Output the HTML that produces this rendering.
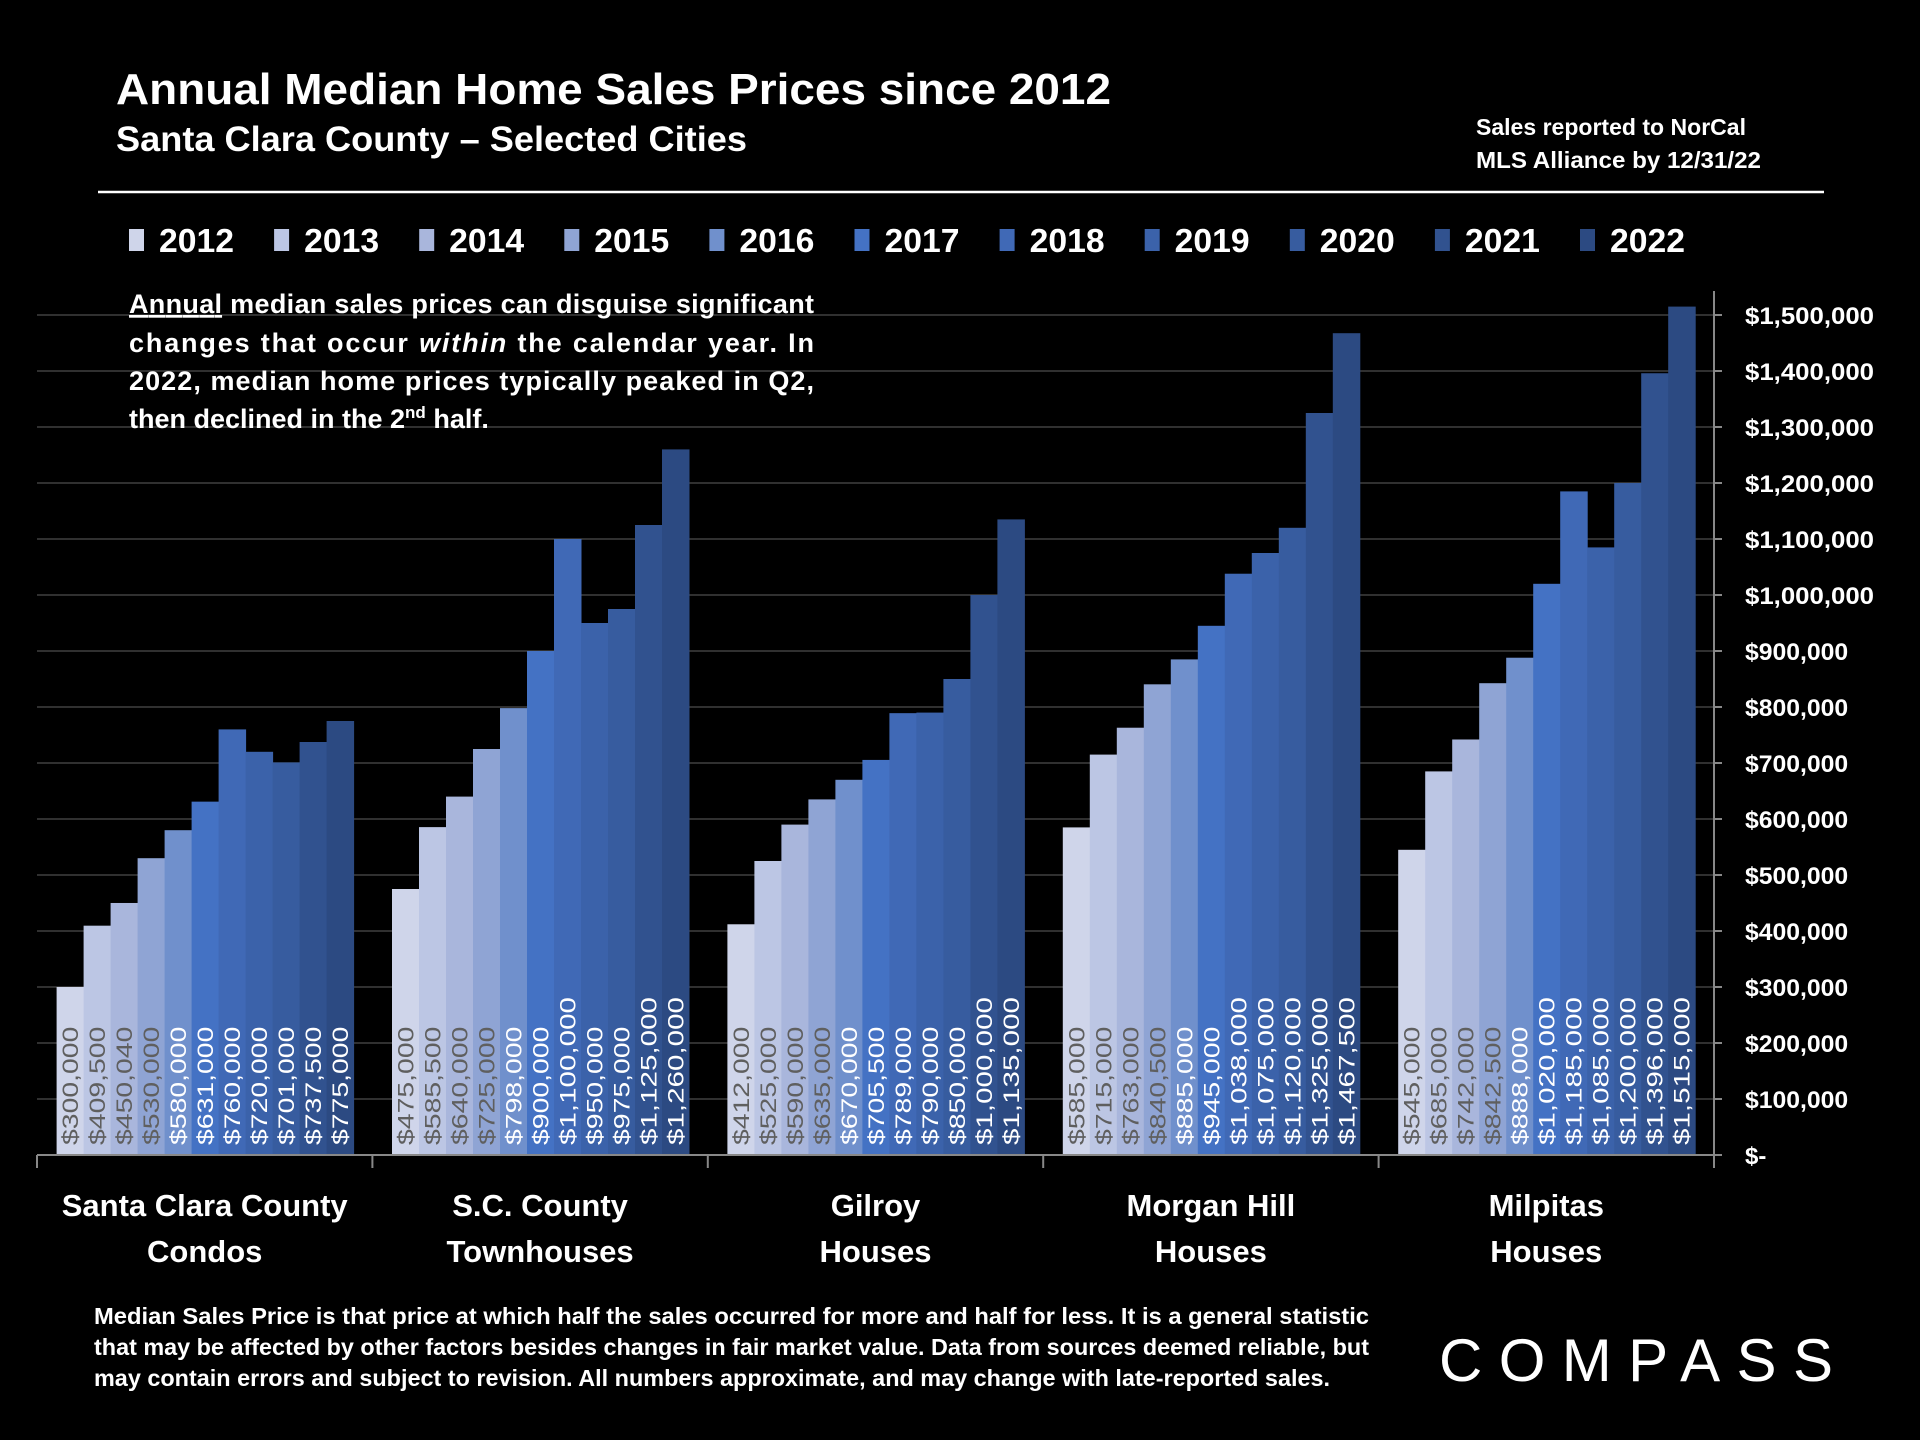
<!DOCTYPE html>
<html><head><meta charset="utf-8"><style>
html,body{margin:0;padding:0;background:#000;}
svg{display:block;}
text{font-family:"Liberation Sans Narrow","Liberation Sans",sans-serif;font-weight:bold;fill:#fff;}
</style></head><body>
<svg id="chart" width="1920" height="1440" viewBox="0 0 1920 1440">
<rect width="1920" height="1440" fill="#000"/>
<text x="116" y="104" font-size="44" textLength="995" lengthAdjust="spacingAndGlyphs">Annual Median Home Sales Prices since 2012</text>
<text x="116" y="151" font-size="35" textLength="631" lengthAdjust="spacingAndGlyphs">Santa Clara County – Selected Cities</text>
<text x="1476" y="135" font-size="23" textLength="270" lengthAdjust="spacingAndGlyphs">Sales reported to NorCal</text>
<text x="1476" y="168" font-size="23" textLength="285" lengthAdjust="spacingAndGlyphs">MLS Alliance by 12/31/22</text>
<line x1="98" y1="192" x2="1824" y2="192" stroke="#fff" stroke-width="2.5"/>
<g id="grid"></g>
<g id="bars"></g>
<g id="axes"></g>
<g id="legend"></g>
<g font-size="27">
<text x="129" y="313" font-size="27" textLength="685" lengthAdjust="spacing"><tspan text-decoration="underline">Annual</tspan> median sales prices can disguise significant</text>
<text x="129" y="352" font-size="27" textLength="685" lengthAdjust="spacing">changes that occur <tspan font-style="italic">within</tspan> the calendar year. In</text>
<text x="129" y="390" font-size="27" textLength="685" lengthAdjust="spacing">2022, median home prices typically peaked in Q2,</text>
<text x="129" y="428" font-size="27">then declined in the 2<tspan font-size="17" dy="-10">nd</tspan><tspan dy="10"> half.</tspan></text>
</g>
<g>
<text x="94" y="1324" font-size="23" textLength="1275" lengthAdjust="spacingAndGlyphs">Median Sales Price is that price at which half the sales occurred for more and half for less. It is a general statistic</text>
<text x="94" y="1355" font-size="23" textLength="1275" lengthAdjust="spacingAndGlyphs">that may be affected by other factors besides changes in fair market value. Data from sources deemed reliable, but</text>
<text x="94" y="1386" font-size="23" textLength="1236" lengthAdjust="spacingAndGlyphs">may contain errors and subject to revision.  All numbers approximate, and may change with late-reported sales.</text>
</g>
<text x="1439" y="1381" font-size="60" textLength="394" lengthAdjust="spacing" style="font-family:'Liberation Sans',sans-serif;font-weight:normal">COMPASS</text>
</svg>
<script>
const categories = [["Santa Clara County","Condos"],["S.C. County","Townhouses"],["Gilroy","Houses"],["Morgan Hill","Houses"],["Milpitas","Houses"]];
const years = ["2012","2013","2014","2015","2016","2017","2018","2019","2020","2021","2022"];
const condos = [300000,409500,450040,530000,580000,631000,760000,720000,701000,737500,775000];
const townhouses = [475000,585500,640000,725000,798000,900000,1100000,950000,975000,1125000,1260000];
const gilroy = [412000,525000,590000,635000,670000,705500,789000,790000,850000,1000000,1135000];
const morganHill = [585000,715000,763000,840500,885000,945000,1038000,1075000,1120000,1325000,1467500];
const milpitas = [545000,685000,742000,842500,888000,1020000,1185000,1085000,1200000,1396000,1515000];
const yTicks = [0,100000,200000,300000,400000,500000,600000,700000,800000,900000,1000000,1100000,1200000,1300000,1400000,1500000];

const series = [condos, townhouses, gilroy, morganHill, milpitas];
const colors = ["#cfd5ea","#bcc6e4","#a9b6dc","#8fa4d4","#7090cc","#4472c4","#4069b6","#3b62aa","#375c9f","#31528f","#2c4a82"];
const NS = "http://www.w3.org/2000/svg";
const X0 = 37, X1 = 1714, BASE = 1155, PX_PER = 56.0 / 100000;
const catW = (X1 - X0) / categories.length;
const barW = 27, pad = 19.6;
function y(v){ return BASE - v * PX_PER; }
function xBar(c, i){ return X0 + c * catW + pad + i * barW; }
function fmt(v){ return v === 0 ? "$-" : "$" + v.toLocaleString("en-US"); }
function mk(tag, attrs, parent){ const e = document.createElementNS(NS, tag); for (const k in attrs) e.setAttribute(k, attrs[k]); parent.appendChild(e); return e; }

const grid = document.getElementById("grid");
const axes = document.getElementById("axes");
yTicks.forEach(t => {
  if (t > 0) {
    const g = mk("line", {x1: X0, x2: X1, y1: y(t), y2: y(t), stroke: "#404040", "stroke-width": 1.5}, grid);
    
    
  }
  const tk = mk("line", {x1: X1, x2: X1 + 8, y1: y(t), y2: y(t), stroke: "#888", "stroke-width": 2}, axes);
  
  
  const lb = mk("text", {x: 1745, y: y(t) + 9, "font-size": 24}, axes);
  lb.textContent = fmt(t);
  if (t > 0) { lb.setAttribute("textLength", fmt(t).length * 12.9); lb.setAttribute("lengthAdjust", "spacingAndGlyphs"); }
  
  
});
const ax = mk("line", {x1: X1, x2: X1, y1: 291, y2: BASE + 12, stroke: "#888", "stroke-width": 2}, axes);


const bx = mk("line", {x1: X0, x2: X1, y1: BASE, y2: BASE, stroke: "#888", "stroke-width": 2}, axes);


for (let c = 0; c <= categories.length; c++) {
  const xt = mk("line", {x1: X0 + c * catW, x2: X0 + c * catW, y1: BASE, y2: BASE + 13, stroke: "#888", "stroke-width": 2}, axes);
  
  
}
categories.forEach((lines, c) => {
  lines.forEach((ln, j) => {
    const t = mk("text", {x: X0 + (c + 0.5) * catW, y: 1216 + j * 46, "font-size": 31, "text-anchor": "middle"}, axes);
    t.textContent = ln;
    
    
  });
});

const bars = document.getElementById("bars");
series.forEach((vals, c) => {
  vals.forEach((v, i) => {
    const r = mk("rect", {x: xBar(c, i), y: y(v), width: barW + 0.5, height: BASE - y(v), fill: colors[i]}, bars);
    
    
  });
  vals.forEach((v, i) => {
    const cx = xBar(c, i) + barW / 2 + 8, cy = 1145;
    const s = fmt(v);
    const t = mk("text", {x: cx, y: cy, "font-size": 22, transform: "rotate(-90 " + cx + " " + cy + ")", textLength: s.length * 14.8, lengthAdjust: "spacingAndGlyphs", style: "fill:" + (i < 4 ? "#5f5f5f" : "#fff") + ";font-weight:normal"}, bars);
    t.textContent = s;
    
    
  });
});

const legend = document.getElementById("legend");
years.forEach((yr, i) => {
  const lx = 129 + i * 145.1;
  const sq = mk("rect", {x: lx, y: 229, width: 15, height: 22, fill: colors[i]}, legend);
  
  
  const t = mk("text", {x: lx + 30, y: 252, "font-size": 33, textLength: 75, lengthAdjust: "spacingAndGlyphs"}, legend);
  t.textContent = yr;
  
  
});
</script>
</body></html>
